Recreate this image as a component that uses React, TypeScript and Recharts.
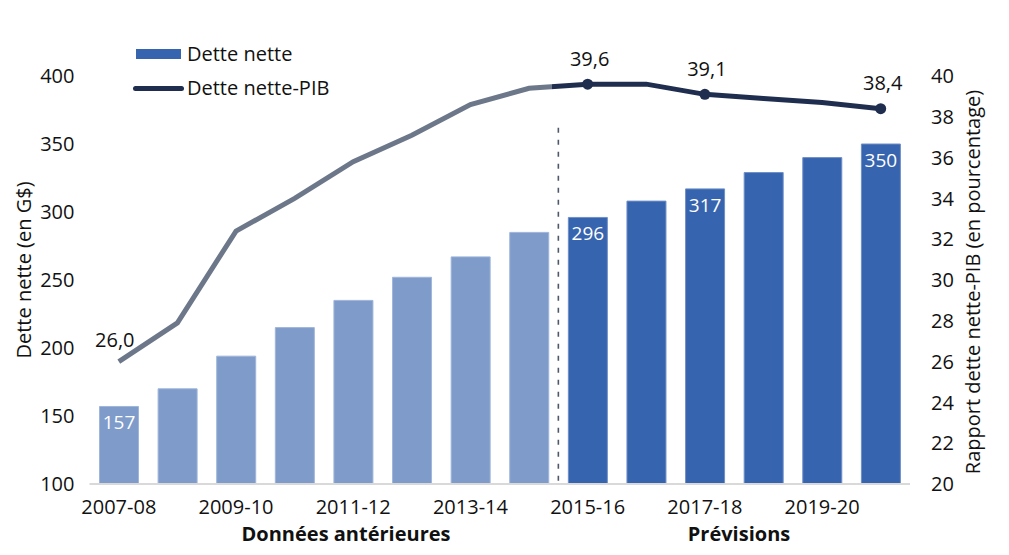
import React from 'react';
import {
  ComposedChart,
  Bar,
  Line,
  XAxis,
  YAxis,
  Cell,
  LabelList,
  ReferenceLine,
} from 'recharts';

const categories = [
  '2007-08', '2008-09', '2009-10', '2010-11', '2011-12', '2012-13', '2013-14',
  '2014-15', '2015-16', '2016-17', '2017-18', '2018-19', '2019-20', '2020-21',
];
const netDebt = [157, 170, 194, 215, 235, 252, 267, 285, 296, 308, 317, 329, 340, 350];
const debtRatio = [26.0, 27.9, 32.4, 34.0, 35.8, 37.1, 38.6, 39.4, 39.6, 39.6, 39.1, 38.9, 38.7, 38.4];
const forecastStart = 8;
const barLabelIndexes = [0, 8, 10, 13];
const lineLabelIndexes = [0, 8, 10, 13];
const lineDotIndexes = [8, 10, 13];
const leftTicks = [100, 150, 200, 250, 300, 350, 400];
const rightTicks = [20, 22, 24, 26, 28, 30, 32, 34, 36, 38, 40];
const dividerCategory = '2014-15';
const dividerTopValue = 362;
const seriesNames = ['Dette nette', 'Dette nette-PIB'];
const groupNames = ['Données antérieures', 'Prévisions'];
const leftTitle = 'Dette nette (en G$)';
const rightTitle = 'Rapport dette nette-PIB (en pourcentage)';

const data = categories.map((year, i) => ({ year, debt: netDebt[i], ratio: debtRatio[i] }));

const FONT = '"Open Sans", "Noto Sans", sans-serif';
const HIST_BAR = '#7e9bca';
const FCST_BAR = '#3764ae';
const HIST_LINE = '#6c7789';
const FCST_LINE = '#1f2e4e';
const TEXT = '#111111';

const fmt = (v: number) => v.toFixed(1).replace('.', ',');

const BarLabel = (props: any) => {
  const { x, y, width, index, value } = props;
  if (!barLabelIndexes.includes(index)) return null;
  return (
    <text
      x={x + width / 2}
      y={y + 16}
      textAnchor="middle"
      dominantBaseline="central"
      fill="#ffffff"
      fontFamily={FONT}
      fontSize={19}
    >
      {value}
    </text>
  );
};

const LineLabel = (props: any) => {
  const { x, y, index, value } = props;
  if (!lineLabelIndexes.includes(index)) return null;
  const first = index === 0;
  return (
    <text
      x={x + (first ? -4 : 2)}
      y={y - (first ? 22 : 26)}
      textAnchor="middle"
      dominantBaseline="central"
      fill={TEXT}
      fontFamily={FONT}
      fontSize={20}
    >
      {fmt(value)}
    </text>
  );
};

const renderDot = (props: any) => {
  const { cx, cy, index } = props;
  if (!lineDotIndexes.includes(index)) return <g key={`d${index}`} />;
  return <circle key={`d${index}`} cx={cx} cy={cy} r={5.5} fill={FCST_LINE} />;
};

const LeftTitle = (props: any) => {
  const vb = props.viewBox || {};
  const cx = vb.x + 23;
  const cy = vb.y + vb.height / 2 - 10;
  return (
    <text
      x={cx}
      y={cy}
      transform={`rotate(-90 ${cx} ${cy})`}
      textAnchor="middle"
      dominantBaseline="central"
      fill={TEXT}
      fontFamily={FONT}
      fontSize={20}
    >
      {leftTitle}
    </text>
  );
};

const RightTitle = (props: any) => {
  const vb = props.viewBox || {};
  const cx = vb.x + 62;
  const cy = vb.y + vb.height / 2 + 2;
  return (
    <text
      x={cx}
      y={cy}
      transform={`rotate(-90 ${cx} ${cy})`}
      textAnchor="middle"
      dominantBaseline="central"
      fill={TEXT}
      fontFamily={FONT}
      fontSize={20}
    >
      {rightTitle}
    </text>
  );
};

const tickStyle = { fontFamily: FONT, fontSize: 20, fill: TEXT };
const gradOffset = (forecastStart - 0.61) / (categories.length - 1);

const groupStyle = (left: number): React.CSSProperties => ({
  position: 'absolute',
  left,
  top: 524,
  transform: 'translateX(-50%)',
  fontFamily: FONT,
  fontSize: 20,
  fontWeight: 700,
  color: TEXT,
  whiteSpace: 'nowrap',
  lineHeight: '20px',
});

export default function App() {
  return (
    <div style={{ position: 'absolute', left: 0, top: 0, width: 1009, height: 555, background: '#fff' }}>
      <ComposedChart
        width={1009}
        height={555}
        data={data}
        margin={{ top: 76, right: 0, left: 0, bottom: 31 }}
      >
        <defs>
          <linearGradient id="ratioStroke" x1="0" y1="0" x2="1" y2="0">
            <stop offset={gradOffset} stopColor={HIST_LINE} />
            <stop offset={gradOffset} stopColor={FCST_LINE} />
          </linearGradient>
        </defs>
        <XAxis
          dataKey="year"
          interval={1}
          height={40}
          tickLine={false}
          tickSize={0}
          tickMargin={16}
          axisLine={{ stroke: '#d9d9d9', strokeWidth: 2 }}
          tick={tickStyle}
        />
        <YAxis
          yAxisId="left"
          width={89.5}
          domain={[100, 400]}
          ticks={leftTicks}
          axisLine={false}
          tickLine={false}
          tickSize={0}
          tickMargin={15}
          tick={tickStyle}
          label={{ content: (p: any) => <LeftTitle {...p} /> }}
        />
        <YAxis
          yAxisId="right"
          orientation="right"
          width={99}
          domain={[20, 40]}
          ticks={rightTicks}
          axisLine={false}
          tickLine={false}
          tickSize={0}
          tickMargin={21}
          tick={{ ...tickStyle, textAnchor: 'start' }}
          label={{ content: (p: any) => <RightTitle {...p} /> }}
        />
        <Bar
          yAxisId="left"
          dataKey="debt"
          name={seriesNames[0]}
          barSize={39}
          isAnimationActive={false}
        >
          {data.map((_, i) => (
            <Cell
              key={i}
              fill={i < forecastStart ? HIST_BAR : FCST_BAR}
              stroke={i < forecastStart ? '#9fb5da' : '#6e8fc8'}
              strokeWidth={1}
            />
          ))}
          <LabelList dataKey="debt" content={BarLabel} />
        </Bar>
        <ReferenceLine
          yAxisId="left"
          position="end"
          segment={[
            { x: dividerCategory, y: dividerTopValue },
            { x: dividerCategory, y: 100 },
          ]}
          stroke="#4f5869"
          strokeWidth={1.6}
          strokeDasharray="5 7"
        />
        <Line
          yAxisId="right"
          type="linear"
          dataKey="ratio"
          name={seriesNames[1]}
          stroke="url(#ratioStroke)"
          strokeWidth={5}
          dot={renderDot}
          activeDot={false}
          isAnimationActive={false}
        >
          <LabelList dataKey="ratio" content={LineLabel} />
        </Line>
      </ComposedChart>

      {/* legend */}
      <div style={{ position: 'absolute', left: 133, top: 40, fontFamily: FONT, fontSize: 20, color: TEXT }}>
        <div style={{ display: 'flex', alignItems: 'center', height: 28 }}>
          <div style={{ width: 45, height: 10, background: FCST_BAR, marginLeft: 3, marginRight: 6 }} />
          <span style={{ lineHeight: '28px' }}>{seriesNames[0]}</span>
        </div>
        <div style={{ display: 'flex', alignItems: 'center', height: 28, marginTop: 6 }}>
          <div style={{ width: 51, height: 5, borderRadius: 3, background: FCST_LINE, marginRight: 3 }} />
          <span style={{ lineHeight: '28px' }}>{seriesNames[1]}</span>
        </div>
      </div>

      {/* group labels */}
      <div style={groupStyle(346)}>{groupNames[0]}</div>
      <div style={groupStyle(739)}>{groupNames[1]}</div>
    </div>
  );
}
